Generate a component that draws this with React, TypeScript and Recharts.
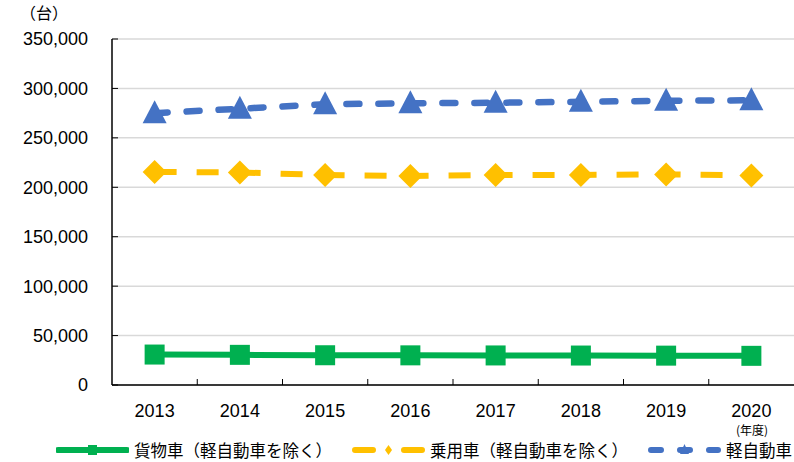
import { LineChart, Line, XAxis, YAxis, CartesianGrid } from "recharts";

const years = ["2013", "2014", "2015", "2016", "2017", "2018", "2019", "2020"];
const trucks = [30800, 30500, 30100, 30000, 29900, 29800, 29700, 29500];
const cars = [215500, 215000, 212500, 211500, 212500, 212500, 213000, 212000];
const kei = [275000, 279500, 284000, 285000, 285500, 286500, 287500, 288000];
const yTicks = [0, 50000, 100000, 150000, 200000, 250000, 300000, 350000];
const seriesNames = ["貨物車（軽自動車を除く）", "乗用車（軽自動車を除く）", "軽自動車"];

const data = years.map((year, i) => ({
  year,
  trucks: trucks[i],
  cars: cars[i],
  kei: kei[i],
}));

const GREEN = "#00b050";
const YELLOW = "#ffc000";
const BLUE = "#4472c4";
const NUM_FONT = "'Liberation Sans', Arial, sans-serif";
const JP_FONT = "'Noto Sans CJK JP', sans-serif";

function SquareDot({ cx, cy }: any) {
  if (cx == null || cy == null) return null;
  return <rect x={cx - 10} y={cy - 10} width={20} height={20} fill={GREEN} />;
}

function DiamondDot({ cx, cy }: any) {
  if (cx == null || cy == null) return null;
  return (
    <polygon
      points={`${cx},${cy - 12} ${cx + 12},${cy} ${cx},${cy + 12} ${cx - 12},${cy}`}
      fill={YELLOW}
    />
  );
}

function TriangleDot({ cx, cy }: any) {
  if (cx == null || cy == null) return null;
  return (
    <polygon
      points={`${cx},${cy - 13} ${cx + 12},${cy + 10} ${cx - 12},${cy + 10}`}
      fill={BLUE}
    />
  );
}

function YTick({ x, y, payload }: any) {
  return (
    <g>
      <text
        x={x}
        y={y}
        dy="0.36em"
        textAnchor="end"
        fontSize={18}
        fontFamily={NUM_FONT}
        fill="#000"
      >
        {payload.value.toLocaleString("en-US")}
      </text>
      <line x1={x + 24} x2={x + 30} y1={y} y2={y} stroke="#000" />
    </g>
  );
}

function XTick({ x, y, payload, index }: any) {
  const off = payload.offset || 42.6;
  return (
    <g>
      <text
        x={x}
        y={y + 32}
        textAnchor="middle"
        fontSize={18}
        fontFamily={NUM_FONT}
        fill="#000"
      >
        {payload.value}
      </text>
      {index > 0 && (
        <line x1={x - off} x2={x - off} y1={y} y2={y - 6} stroke="#000" />
      )}
    </g>
  );
}

function LegendIcon({ idx }: { idx: number }) {
  return (
    <svg width={73} height={16} style={{ display: "block" }}>
      {idx === 0 && (
        <>
          <line x1={2} x2={71} y1={8} y2={8} stroke={GREEN} strokeWidth={6} strokeLinecap="round" />
          <rect x={32} y={3} width={9} height={10} fill={GREEN} />
        </>
      )}
      {idx === 1 && (
        <>
          <line x1={3} x2={70} y1={8} y2={8} stroke={YELLOW} strokeWidth={6} strokeDasharray="18 31" strokeLinecap="round" />
          <polygon points="36.5,3 40,8 36.5,13 33,8" fill={YELLOW} />
        </>
      )}
      {idx === 2 && (
        <>
          <line x1={3} x2={70} y1={8} y2={8} stroke={BLUE} strokeWidth={6} strokeDasharray="10 19" strokeLinecap="round" />
          <polygon points="36.5,2 41,12 32,12" fill={BLUE} />
        </>
      )}
    </svg>
  );
}

export default function App() {
  return (
    <div style={{ position: "absolute", left: 0, top: 0, width: 794, height: 462, background: "#fff" }}>
      <LineChart
        width={794}
        height={462}
        data={data}
        margin={{ top: 39, right: 0, bottom: 0, left: 12 }}
      >
        <CartesianGrid vertical={false} stroke="#d9d9d9" strokeWidth={1.5} />
        <XAxis
          dataKey="year"
          scale="band"
          height={77}
          axisLine={{ stroke: "#000", strokeWidth: 1.5 }}
          tickLine={false}
          tickSize={0}
          tickMargin={0}
          tick={<XTick />}
          interval={0}
        />
        <YAxis
          width={100}
          domain={[0, 350000]}
          ticks={yTicks}
          axisLine={{ stroke: "#000", strokeWidth: 1.5 }}
          tickLine={false}
          tickSize={0}
          tickMargin={24}
          tick={<YTick />}
        />
        <Line
          dataKey="trucks"
          name={seriesNames[0]}
          stroke={GREEN}
          strokeWidth={6}
          dot={<SquareDot />}
          activeDot={false}
          isAnimationActive={false}
        />
        <Line
          dataKey="cars"
          name={seriesNames[1]}
          stroke={YELLOW}
          strokeWidth={6}
          strokeDasharray="22 20"
          dot={<DiamondDot />}
          activeDot={false}
          isAnimationActive={false}
        />
        <Line
          dataKey="kei"
          name={seriesNames[2]}
          stroke={BLUE}
          strokeWidth={6.5}
          strokeDasharray="13 19"
          strokeLinecap="round"
          dot={<TriangleDot />}
          activeDot={false}
          isAnimationActive={false}
        />
      </LineChart>

      <div
        style={{
          position: "absolute",
          left: 20,
          top: 2,
          fontSize: 16,
          fontFamily: JP_FONT,
          color: "#000",
          lineHeight: "20px",
        }}
      >
        （台）
      </div>
      <div
        style={{
          position: "absolute",
          left: 736,
          top: 424,
          fontSize: 12,
          fontFamily: JP_FONT,
          color: "#000",
          lineHeight: "12px",
        }}
      >
        (年度)
      </div>
      <div
        style={{
          position: "absolute",
          left: 56,
          top: 441,
          display: "flex",
          alignItems: "center",
          gap: 20,
          fontSize: 16.5,
          fontFamily: JP_FONT,
          color: "#000",
          lineHeight: "18px",
          whiteSpace: "nowrap",
        }}
      >
        {seriesNames.map((name, i) => (
          <div key={name} style={{ display: "flex", alignItems: "center", gap: 5 }}>
            <LegendIcon idx={i} />
            <span>{name}</span>
          </div>
        ))}
      </div>
    </div>
  );
}
